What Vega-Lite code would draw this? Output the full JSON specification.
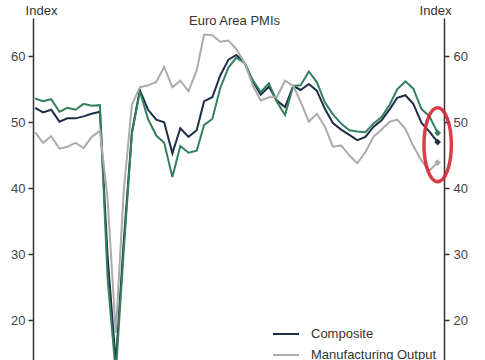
{
  "$schema": "https://vega.github.io/schema/vega-lite/v6.json",
  "width": 411,
  "height": 342,
  "autosize": {"type": "none"},
  "padding": {"left": 33, "top": 18, "right": 41, "bottom": 0},
  "background": "white",
  "config": {
    "view": {"stroke": null},
    "font": "Liberation Sans",
    "axis": {"labelFont": "Liberation Sans", "titleFont": "Liberation Sans"},
    "legend": {"labelFont": "Liberation Sans"}
  },
  "title": {
    "text": "Euro Area PMIs",
    "anchor": "middle",
    "frame": "group",
    "baseline": "alphabetic",
    "offset": 0,
    "dy": 34,
    "dx": -4,
    "fontSize": 13,
    "fontWeight": "normal",
    "color": "#333333",
    "font": "Liberation Sans"
  },
  "datasets": {
    "pmi": [
      {"date": "2019-06-01", "series": "Composite", "value": 52.2},
      {"date": "2019-07-01", "series": "Composite", "value": 51.5},
      {"date": "2019-08-01", "series": "Composite", "value": 51.9},
      {"date": "2019-09-01", "series": "Composite", "value": 50.1},
      {"date": "2019-10-01", "series": "Composite", "value": 50.6},
      {"date": "2019-11-01", "series": "Composite", "value": 50.6},
      {"date": "2019-12-01", "series": "Composite", "value": 50.9},
      {"date": "2020-01-01", "series": "Composite", "value": 51.3},
      {"date": "2020-02-01", "series": "Composite", "value": 51.6},
      {"date": "2020-03-01", "series": "Composite", "value": 29.7},
      {"date": "2020-04-01", "series": "Composite", "value": 13.6},
      {"date": "2020-05-01", "series": "Composite", "value": 31.9},
      {"date": "2020-06-01", "series": "Composite", "value": 48.5},
      {"date": "2020-07-01", "series": "Composite", "value": 54.9},
      {"date": "2020-08-01", "series": "Composite", "value": 51.9},
      {"date": "2020-09-01", "series": "Composite", "value": 50.4},
      {"date": "2020-10-01", "series": "Composite", "value": 50.0},
      {"date": "2020-11-01", "series": "Composite", "value": 45.3},
      {"date": "2020-12-01", "series": "Composite", "value": 49.1},
      {"date": "2021-01-01", "series": "Composite", "value": 47.8},
      {"date": "2021-02-01", "series": "Composite", "value": 48.8},
      {"date": "2021-03-01", "series": "Composite", "value": 53.2},
      {"date": "2021-04-01", "series": "Composite", "value": 53.8},
      {"date": "2021-05-01", "series": "Composite", "value": 57.1},
      {"date": "2021-06-01", "series": "Composite", "value": 59.5},
      {"date": "2021-07-01", "series": "Composite", "value": 60.2},
      {"date": "2021-08-01", "series": "Composite", "value": 59.0},
      {"date": "2021-09-01", "series": "Composite", "value": 56.2},
      {"date": "2021-10-01", "series": "Composite", "value": 54.2},
      {"date": "2021-11-01", "series": "Composite", "value": 55.4},
      {"date": "2021-12-01", "series": "Composite", "value": 53.3},
      {"date": "2022-01-01", "series": "Composite", "value": 52.3},
      {"date": "2022-02-01", "series": "Composite", "value": 55.5},
      {"date": "2022-03-01", "series": "Composite", "value": 54.9},
      {"date": "2022-04-01", "series": "Composite", "value": 55.8},
      {"date": "2022-05-01", "series": "Composite", "value": 54.8},
      {"date": "2022-06-01", "series": "Composite", "value": 52.0},
      {"date": "2022-07-01", "series": "Composite", "value": 49.9},
      {"date": "2022-08-01", "series": "Composite", "value": 48.9},
      {"date": "2022-09-01", "series": "Composite", "value": 48.1},
      {"date": "2022-10-01", "series": "Composite", "value": 47.3},
      {"date": "2022-11-01", "series": "Composite", "value": 47.8},
      {"date": "2022-12-01", "series": "Composite", "value": 49.3},
      {"date": "2023-01-01", "series": "Composite", "value": 50.3},
      {"date": "2023-02-01", "series": "Composite", "value": 52.0},
      {"date": "2023-03-01", "series": "Composite", "value": 53.7},
      {"date": "2023-04-01", "series": "Composite", "value": 54.1},
      {"date": "2023-05-01", "series": "Composite", "value": 52.8},
      {"date": "2023-06-01", "series": "Composite", "value": 49.9},
      {"date": "2023-07-01", "series": "Composite", "value": 48.6},
      {"date": "2023-08-01", "series": "Composite", "value": 47.0},

      {"date": "2019-06-01", "series": "Services", "value": 53.6},
      {"date": "2019-07-01", "series": "Services", "value": 53.2},
      {"date": "2019-08-01", "series": "Services", "value": 53.5},
      {"date": "2019-09-01", "series": "Services", "value": 51.6},
      {"date": "2019-10-01", "series": "Services", "value": 52.2},
      {"date": "2019-11-01", "series": "Services", "value": 51.9},
      {"date": "2019-12-01", "series": "Services", "value": 52.8},
      {"date": "2020-01-01", "series": "Services", "value": 52.5},
      {"date": "2020-02-01", "series": "Services", "value": 52.6},
      {"date": "2020-03-01", "series": "Services", "value": 26.4},
      {"date": "2020-04-01", "series": "Services", "value": 12.0},
      {"date": "2020-05-01", "series": "Services", "value": 30.5},
      {"date": "2020-06-01", "series": "Services", "value": 48.3},
      {"date": "2020-07-01", "series": "Services", "value": 54.7},
      {"date": "2020-08-01", "series": "Services", "value": 50.5},
      {"date": "2020-09-01", "series": "Services", "value": 48.0},
      {"date": "2020-10-01", "series": "Services", "value": 46.9},
      {"date": "2020-11-01", "series": "Services", "value": 41.7},
      {"date": "2020-12-01", "series": "Services", "value": 46.4},
      {"date": "2021-01-01", "series": "Services", "value": 45.4},
      {"date": "2021-02-01", "series": "Services", "value": 45.7},
      {"date": "2021-03-01", "series": "Services", "value": 49.6},
      {"date": "2021-04-01", "series": "Services", "value": 50.5},
      {"date": "2021-05-01", "series": "Services", "value": 55.2},
      {"date": "2021-06-01", "series": "Services", "value": 58.3},
      {"date": "2021-07-01", "series": "Services", "value": 59.8},
      {"date": "2021-08-01", "series": "Services", "value": 59.0},
      {"date": "2021-09-01", "series": "Services", "value": 56.4},
      {"date": "2021-10-01", "series": "Services", "value": 54.6},
      {"date": "2021-11-01", "series": "Services", "value": 55.9},
      {"date": "2021-12-01", "series": "Services", "value": 53.1},
      {"date": "2022-01-01", "series": "Services", "value": 51.1},
      {"date": "2022-02-01", "series": "Services", "value": 55.5},
      {"date": "2022-03-01", "series": "Services", "value": 55.6},
      {"date": "2022-04-01", "series": "Services", "value": 57.7},
      {"date": "2022-05-01", "series": "Services", "value": 56.1},
      {"date": "2022-06-01", "series": "Services", "value": 53.0},
      {"date": "2022-07-01", "series": "Services", "value": 51.2},
      {"date": "2022-08-01", "series": "Services", "value": 49.8},
      {"date": "2022-09-01", "series": "Services", "value": 48.8},
      {"date": "2022-10-01", "series": "Services", "value": 48.6},
      {"date": "2022-11-01", "series": "Services", "value": 48.5},
      {"date": "2022-12-01", "series": "Services", "value": 49.8},
      {"date": "2023-01-01", "series": "Services", "value": 50.8},
      {"date": "2023-02-01", "series": "Services", "value": 52.7},
      {"date": "2023-03-01", "series": "Services", "value": 55.0},
      {"date": "2023-04-01", "series": "Services", "value": 56.2},
      {"date": "2023-05-01", "series": "Services", "value": 55.1},
      {"date": "2023-06-01", "series": "Services", "value": 52.0},
      {"date": "2023-07-01", "series": "Services", "value": 50.9},
      {"date": "2023-08-01", "series": "Services", "value": 48.4},

      {"date": "2019-06-01", "series": "Manufacturing Output", "value": 48.5},
      {"date": "2019-07-01", "series": "Manufacturing Output", "value": 46.9},
      {"date": "2019-08-01", "series": "Manufacturing Output", "value": 47.9},
      {"date": "2019-09-01", "series": "Manufacturing Output", "value": 46.0},
      {"date": "2019-10-01", "series": "Manufacturing Output", "value": 46.3},
      {"date": "2019-11-01", "series": "Manufacturing Output", "value": 46.9},
      {"date": "2019-12-01", "series": "Manufacturing Output", "value": 46.1},
      {"date": "2020-01-01", "series": "Manufacturing Output", "value": 47.8},
      {"date": "2020-02-01", "series": "Manufacturing Output", "value": 48.7},
      {"date": "2020-03-01", "series": "Manufacturing Output", "value": 38.5},
      {"date": "2020-04-01", "series": "Manufacturing Output", "value": 18.1},
      {"date": "2020-05-01", "series": "Manufacturing Output", "value": 39.5},
      {"date": "2020-06-01", "series": "Manufacturing Output", "value": 52.7},
      {"date": "2020-07-01", "series": "Manufacturing Output", "value": 55.3},
      {"date": "2020-08-01", "series": "Manufacturing Output", "value": 55.6},
      {"date": "2020-09-01", "series": "Manufacturing Output", "value": 56.1},
      {"date": "2020-10-01", "series": "Manufacturing Output", "value": 58.4},
      {"date": "2020-11-01", "series": "Manufacturing Output", "value": 55.3},
      {"date": "2020-12-01", "series": "Manufacturing Output", "value": 56.3},
      {"date": "2021-01-01", "series": "Manufacturing Output", "value": 54.7},
      {"date": "2021-02-01", "series": "Manufacturing Output", "value": 57.9},
      {"date": "2021-03-01", "series": "Manufacturing Output", "value": 63.3},
      {"date": "2021-04-01", "series": "Manufacturing Output", "value": 63.2},
      {"date": "2021-05-01", "series": "Manufacturing Output", "value": 62.2},
      {"date": "2021-06-01", "series": "Manufacturing Output", "value": 62.4},
      {"date": "2021-07-01", "series": "Manufacturing Output", "value": 61.1},
      {"date": "2021-08-01", "series": "Manufacturing Output", "value": 59.0},
      {"date": "2021-09-01", "series": "Manufacturing Output", "value": 55.6},
      {"date": "2021-10-01", "series": "Manufacturing Output", "value": 53.3},
      {"date": "2021-11-01", "series": "Manufacturing Output", "value": 53.8},
      {"date": "2021-12-01", "series": "Manufacturing Output", "value": 53.8},
      {"date": "2022-01-01", "series": "Manufacturing Output", "value": 56.3},
      {"date": "2022-02-01", "series": "Manufacturing Output", "value": 55.5},
      {"date": "2022-03-01", "series": "Manufacturing Output", "value": 53.1},
      {"date": "2022-04-01", "series": "Manufacturing Output", "value": 50.1},
      {"date": "2022-05-01", "series": "Manufacturing Output", "value": 51.3},
      {"date": "2022-06-01", "series": "Manufacturing Output", "value": 49.3},
      {"date": "2022-07-01", "series": "Manufacturing Output", "value": 46.3},
      {"date": "2022-08-01", "series": "Manufacturing Output", "value": 46.5},
      {"date": "2022-09-01", "series": "Manufacturing Output", "value": 45.0},
      {"date": "2022-10-01", "series": "Manufacturing Output", "value": 43.8},
      {"date": "2022-11-01", "series": "Manufacturing Output", "value": 45.5},
      {"date": "2022-12-01", "series": "Manufacturing Output", "value": 47.8},
      {"date": "2023-01-01", "series": "Manufacturing Output", "value": 48.9},
      {"date": "2023-02-01", "series": "Manufacturing Output", "value": 50.1},
      {"date": "2023-03-01", "series": "Manufacturing Output", "value": 50.4},
      {"date": "2023-04-01", "series": "Manufacturing Output", "value": 49.0},
      {"date": "2023-05-01", "series": "Manufacturing Output", "value": 46.4},
      {"date": "2023-06-01", "series": "Manufacturing Output", "value": 44.2},
      {"date": "2023-07-01", "series": "Manufacturing Output", "value": 42.7},
      {"date": "2023-08-01", "series": "Manufacturing Output", "value": 43.9}
    ],
    "highlight": [
      {"date": "2023-08-01", "value": 46.6}
    ]
  },
  "resolve": {"axis": {"y": "independent"}},
  "layer": [
    {
      "mark": {"type": "rule", "color": "#7a7a7a", "strokeWidth": 1.3},
      "encoding": {
        "y": {"datum": 50, "type": "quantitative", "scale": {"domain": [14, 65.8], "nice": false, "zero": false}, "axis": null}
      }
    },
    {
      "data": {"name": "pmi"},
      "mark": {"type": "line", "strokeWidth": 2},
      "encoding": {
        "x": {
          "field": "date",
          "type": "temporal",
          "scale": {"domain": [{"year": 2019, "month": 5, "date": 24}, {"year": 2023, "month": 8, "date": 25}]},
          "axis": null
        },
        "y": {
          "field": "value",
          "type": "quantitative",
          "scale": {"domain": [14, 65.8], "nice": false, "zero": false},
          "axis": {
            "orient": "left",
            "values": [20, 30, 40, 50, 60],
            "grid": false,
            "domainColor": "#333333",
            "domainWidth": 1.5,
            "tickColor": "#333333",
            "tickSize": 5,
            "tickWidth": 1.5,
            "labelFontSize": 13,
            "labelColor": "#444444",
            "labelPadding": 3,
            "title": "Index",
            "titleAngle": 0,
            "titleAlign": "center",
            "titleBaseline": "alphabetic",
            "titleX": 8,
            "titleY": -4,
            "titleFontSize": 13,
            "titleFontWeight": "normal",
            "titleColor": "#333333"
          }
        },
        "color": {
          "field": "series",
          "type": "nominal",
          "scale": {
            "domain": ["Composite", "Manufacturing Output", "Services"],
            "range": ["#1c2e48", "#ababab", "#34805e"]
          },
          "legend": {
            "orient": "none",
            "legendX": 239,
            "legendY": 302,
            "title": null,
            "padding": 0,
            "symbolType": "stroke",
            "symbolSize": 676,
            "symbolStrokeWidth": 2,
            "labelFontSize": 13,
            "labelColor": "#333333",
            "labelOffset": 11,
            "rowPadding": -10
          }
        },
        "detail": {"field": "series"}
      }
    },
    {
      "data": {"name": "pmi"},
      "transform": [{"filter": "utcyear(datum.date) == 2023 && utcmonth(datum.date) == 7"}],
      "mark": {"type": "point", "shape": "diamond", "filled": true, "size": 45, "opacity": 1},
      "encoding": {
        "x": {"field": "date", "type": "temporal"},
        "y": {
          "field": "value",
          "type": "quantitative",
          "scale": {"domain": [14, 65.8], "nice": false, "zero": false},
          "axis": {
            "orient": "right",
            "values": [20, 30, 40, 50, 60],
            "grid": false,
            "domainColor": "#333333",
            "domainWidth": 1.5,
            "tickColor": "#333333",
            "tickSize": 5,
            "tickWidth": 1.5,
            "labelFontSize": 13,
            "labelColor": "#444444",
            "labelPadding": 4,
            "title": "Index",
            "titleAngle": 0,
            "titleAlign": "center",
            "titleBaseline": "alphabetic",
            "titleX": -9,
            "titleY": -4,
            "titleFontSize": 13,
            "titleFontWeight": "normal",
            "titleColor": "#333333"
          }
        },
        "color": {"field": "series", "type": "nominal", "legend": null}
      }
    },
    {
      "data": {"name": "highlight"},
      "mark": {
        "type": "point",
        "shape": "M 0 -1 A 0.37 1 0 1 1 0 1 A 0.37 1 0 1 1 0 -1 Z",
        "size": 5476,
        "filled": false,
        "stroke": "#d42a35",
        "strokeWidth": 3.5,
        "opacity": 0.9
      },
      "encoding": {
        "x": {"field": "date", "type": "temporal"},
        "y": {"field": "value", "type": "quantitative", "scale": {"domain": [14, 65.8], "nice": false, "zero": false}, "axis": null}
      }
    }
  ]
}
